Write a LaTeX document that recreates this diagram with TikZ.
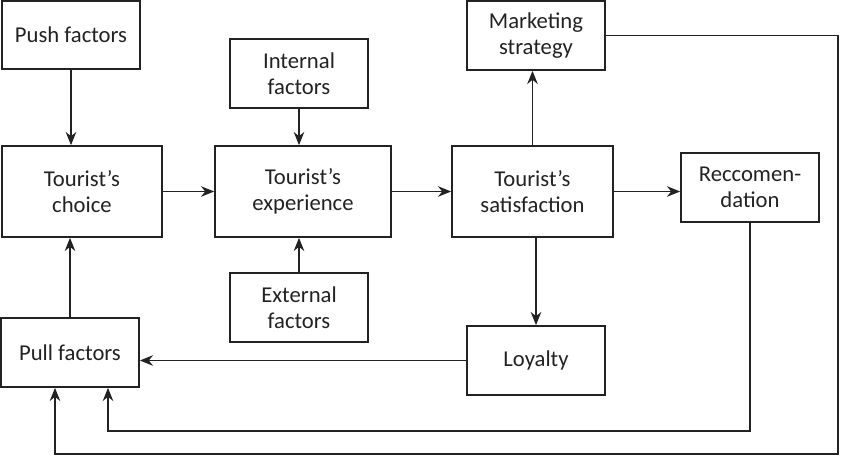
\documentclass[tikz,border=0pt]{standalone}
\usepackage{fontspec}
\setmainfont{Carlito}
\usetikzlibrary{arrows.meta}
\definecolor{linegray}{HTML}{222222}
\begin{document}
\begin{tikzpicture}[x=0.02cm, y=-0.02cm,
  box/.style={draw=linegray, line width=1pt, align=center, inner sep=2pt,
    text=linegray, font=\fontsize{12.9}{14.8}\selectfont},
  arr/.style={draw=linegray, line width=1pt, -{Stealth[length=7.5pt, width=6pt]}}]

% Fix the page to the size of the reference
\useasboundingbox (0,0) rectangle (850,456);

% Define the boxes
% left column: push factors, tourist's choice, pull factors
% middle column: internal factors, tourist's experience, external factors
% right part: marketing strategy, tourist's satisfaction, reccomendation, loyalty

\node[box, minimum width=2.76cm, minimum height=1.36cm] (push) at (71,35) {Push factors};
\node[box, minimum width=3.2cm, minimum height=1.82cm] (choice) at (82,191.5) {Tourist’s\\choice};
\node[box, minimum width=2.76cm, minimum height=1.38cm] (pull) at (70,352.5) {Pull factors};

\node[box, minimum width=2.76cm, minimum height=1.38cm] (internal) at (299,73.5) {Internal\\factors};
\node[box, minimum width=3.52cm, minimum height=1.82cm] (experience) at (303,191.5) {Tourist’s\\experience};
\node[box, minimum width=2.76cm, minimum height=1.38cm] (external) at (299,307.5) {External\\factors};

\node[box, minimum width=2.76cm, minimum height=1.38cm] (marketing) at (536,35.5) {Marketing\\strategy};
\node[box, minimum width=3.22cm, minimum height=1.82cm] (satisfaction) at (532.5,191.5) {Tourist’s\\satisfaction};
\node[box, minimum width=2.76cm, minimum height=1.38cm] (recommend) at (750,187.5) {Reccomen-\\dation};
\node[box, minimum width=2.76cm, minimum height=1.38cm] (loyalty) at (536,360.5) {Loyalty};

% Corners of the two long feedback lines
\coordinate (recturn) at (108,431);
\coordinate (mktright) at (838,454);
\coordinate (mktleft) at (55,454);

% Push factors down to tourist's choice
\draw[arr] (push.south) -- (push.south |- choice.north);

% Pull factors up to tourist's choice
\draw[arr] (pull.north) -- (pull.north |- choice.south);

% Tourist's choice to tourist's experience
\draw[arr] (choice.east) -- (experience.west);

% Internal factors down to tourist's experience
\draw[arr] (internal.south) -- (internal.south |- experience.north);

% External factors up to tourist's experience
\draw[arr] (external.north) -- (external.north |- experience.south);

% Tourist's experience to tourist's satisfaction
\draw[arr] (experience.east) -- (satisfaction.west);

% Tourist's satisfaction up to marketing strategy
\draw[arr] (satisfaction.north) -- (satisfaction.north |- marketing.south);

% Tourist's satisfaction to reccomendation
\draw[arr] (satisfaction.east) -- (satisfaction.east -| recommend.west);

% Tourist's satisfaction down to loyalty
\draw[arr] (loyalty.north |- satisfaction.south) -- (loyalty.north);

% Loyalty back to pull factors
\draw[arr] (loyalty.west) -- (loyalty.west -| pull.east);

% Reccomendation round the bottom to pull factors
\draw[arr] (recommend.south) |- (recturn) -- (recturn |- pull.south);

% Marketing strategy round the right and bottom to pull factors
\draw[arr] (marketing.east) -| (mktright) -| (mktleft |- pull.south);

\end{tikzpicture}
\end{document}
